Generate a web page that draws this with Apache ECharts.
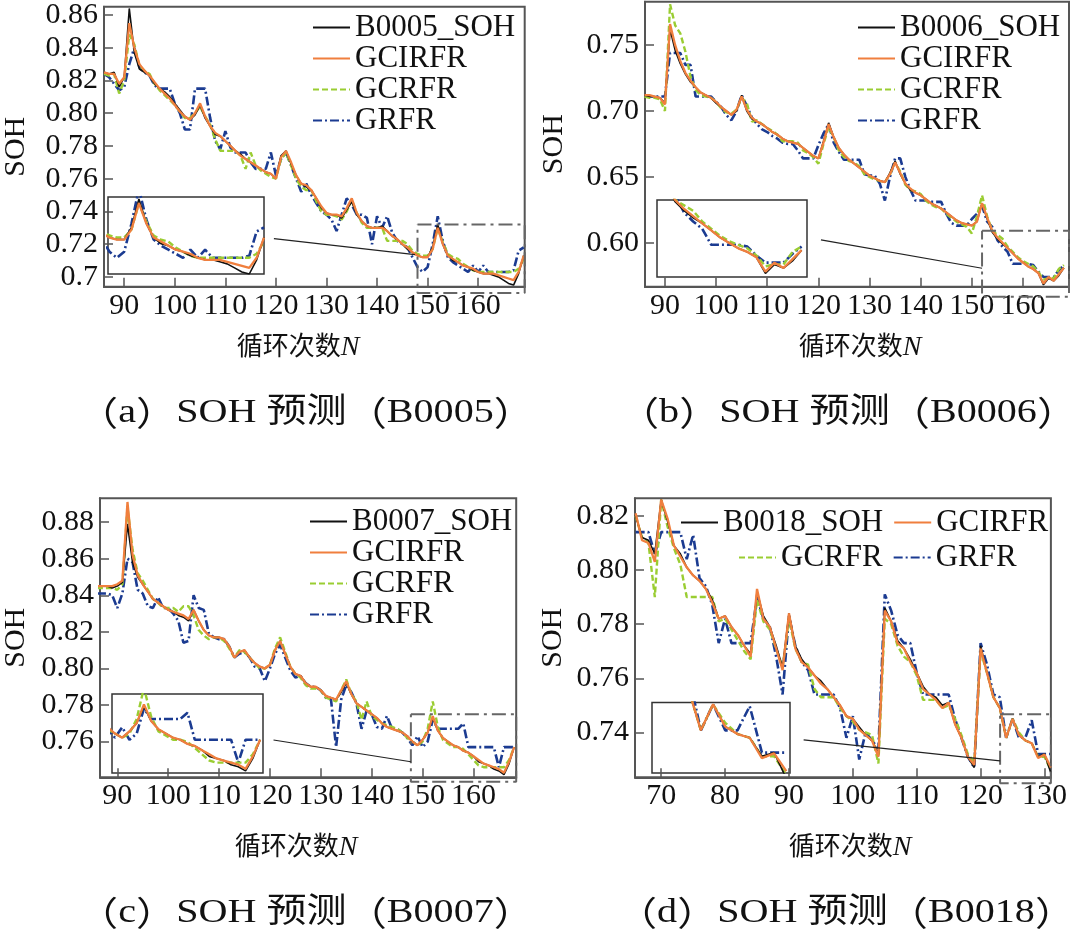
<!DOCTYPE html>
<html><head><meta charset="utf-8">
<script src="https://cdn.jsdelivr.net/npm/echarts@6/dist/echarts.min.js"></script>
<style>html,body{margin:0;padding:0;background:#fff}#c{width:1070px;height:930px}</style>
</head><body><div id="c"></div>
<script>
// ---------------- data ----------------
const aStart = 86;
const aTrue = [0.825,0.824,0.825,0.816,0.822,0.864,0.837,0.827,0.825,0.823,
0.818,0.815,0.813,0.810,0.806,0.802,0.798,0.796,0.799,0.805,
0.797,0.792,0.787,0.786,0.783,0.780,0.777,0.775,0.772,0.770,
0.768,0.766,0.764,0.763,0.760,0.774,0.777,0.769,0.762,0.757,
0.755,0.753,0.748,0.742,0.739,0.738,0.738,0.736,0.741,0.746,
0.738,0.734,0.731,0.730,0.730,0.731,0.728,0.725,0.723,0.720,
0.717,0.715,0.713,0.712,0.712,0.718,0.732,0.720,0.713,0.710,
0.709,0.707,0.706,0.704,0.703,0.702,0.702,0.701,0.700,0.698,
0.696,0.695,0.702,0.713];
const aGCIRFR = [0.825,0.824,0.824,0.818,0.822,0.855,0.840,0.830,0.826,0.823,
0.819,0.815,0.812,0.809,0.805,0.801,0.798,0.796,0.800,0.806,
0.798,0.792,0.788,0.786,0.783,0.780,0.777,0.774,0.772,0.770,
0.768,0.766,0.764,0.763,0.760,0.773,0.777,0.770,0.762,0.757,
0.756,0.753,0.748,0.743,0.739,0.738,0.738,0.737,0.742,0.748,
0.739,0.734,0.731,0.730,0.730,0.730,0.728,0.725,0.723,0.720,
0.718,0.715,0.713,0.712,0.712,0.717,0.730,0.720,0.713,0.711,
0.709,0.707,0.706,0.705,0.703,0.702,0.702,0.702,0.701,0.700,
0.699,0.698,0.703,0.713];
const aGCRFR = [0.824,0.823,0.824,0.812,0.820,0.848,0.842,0.829,0.826,0.824,
0.818,0.814,0.811,0.808,0.805,0.801,0.797,0.797,0.800,0.804,
0.798,0.793,0.784,0.777,0.777,0.777,0.777,0.774,0.766,0.776,
0.768,0.765,0.763,0.761,0.760,0.772,0.776,0.768,0.760,0.755,
0.753,0.753,0.746,0.740,0.738,0.738,0.737,0.735,0.740,0.747,
0.739,0.733,0.730,0.730,0.730,0.730,0.722,0.722,0.722,0.722,
0.720,0.716,0.714,0.713,0.713,0.717,0.730,0.721,0.714,0.712,
0.711,0.708,0.706,0.704,0.703,0.703,0.703,0.703,0.703,0.703,
0.703,0.703,0.705,0.711];
const aGRFR = [0.824,0.822,0.818,0.814,0.816,0.830,0.840,0.828,0.825,0.823,
0.817,0.815,0.815,0.815,0.806,0.800,0.790,0.790,0.815,0.815,
0.815,0.797,0.783,0.778,0.789,0.779,0.776,0.776,0.776,0.770,
0.766,0.766,0.766,0.776,0.762,0.772,0.776,0.768,0.760,0.752,
0.757,0.750,0.745,0.740,0.738,0.735,0.728,0.738,0.748,0.744,
0.738,0.738,0.736,0.720,0.737,0.730,0.737,0.727,0.722,0.720,
0.718,0.712,0.706,0.703,0.706,0.720,0.737,0.722,0.712,0.709,
0.707,0.705,0.703,0.707,0.703,0.707,0.703,0.703,0.703,0.703,
0.703,0.704,0.716,0.718];

const bStart = 86;
const bTrue = [0.712,0.711,0.711,0.710,0.706,0.762,0.746,0.736,0.728,0.722,
0.718,0.714,0.712,0.710,0.706,0.703,0.700,0.697,0.700,0.712,
0.700,0.694,0.692,0.690,0.687,0.684,0.682,0.679,0.677,0.676,
0.675,0.672,0.669,0.666,0.664,0.677,0.691,0.680,0.672,0.667,
0.663,0.660,0.657,0.654,0.651,0.649,0.647,0.646,0.653,0.662,
0.652,0.645,0.640,0.638,0.636,0.633,0.630,0.628,0.626,0.623,
0.620,0.617,0.615,0.614,0.613,0.616,0.630,0.618,0.608,0.603,
0.599,0.596,0.592,0.588,0.585,0.582,0.580,0.577,0.568,0.573,
0.571,0.575,0.581];
const bGCIRFR = [0.712,0.712,0.711,0.710,0.705,0.766,0.750,0.738,0.729,0.723,
0.718,0.714,0.712,0.710,0.707,0.703,0.700,0.697,0.701,0.711,
0.701,0.695,0.692,0.690,0.687,0.684,0.682,0.679,0.677,0.676,
0.675,0.672,0.669,0.666,0.664,0.676,0.690,0.680,0.672,0.667,
0.663,0.660,0.657,0.654,0.651,0.649,0.647,0.646,0.652,0.661,
0.653,0.645,0.641,0.638,0.636,0.633,0.630,0.628,0.626,0.623,
0.620,0.617,0.615,0.614,0.613,0.616,0.630,0.619,0.609,0.604,
0.600,0.596,0.592,0.588,0.585,0.582,0.580,0.577,0.569,0.574,
0.571,0.576,0.581];
const bGCRFR = [0.711,0.710,0.710,0.709,0.700,0.781,0.765,0.759,0.745,0.726,
0.716,0.712,0.711,0.710,0.707,0.702,0.699,0.698,0.701,0.710,
0.706,0.692,0.693,0.690,0.687,0.685,0.682,0.677,0.677,0.677,
0.676,0.670,0.668,0.665,0.660,0.675,0.688,0.680,0.670,0.665,
0.662,0.661,0.658,0.652,0.650,0.648,0.647,0.646,0.652,0.661,
0.654,0.644,0.640,0.639,0.637,0.632,0.629,0.627,0.626,0.622,
0.619,0.616,0.614,0.612,0.607,0.620,0.636,0.620,0.609,0.606,
0.603,0.597,0.593,0.589,0.586,0.584,0.582,0.578,0.572,0.573,
0.573,0.580,0.583];
const bGRFR = [0.712,0.711,0.711,0.711,0.711,0.744,0.744,0.744,0.735,0.735,
0.711,0.711,0.711,0.711,0.707,0.703,0.697,0.693,0.700,0.712,
0.704,0.695,0.690,0.686,0.684,0.681,0.679,0.676,0.675,0.675,
0.670,0.664,0.664,0.664,0.674,0.683,0.690,0.676,0.669,0.663,
0.663,0.663,0.663,0.652,0.651,0.651,0.645,0.632,0.650,0.664,
0.664,0.650,0.640,0.632,0.632,0.632,0.631,0.631,0.631,0.622,
0.615,0.613,0.613,0.613,0.618,0.622,0.628,0.616,0.612,0.602,
0.597,0.593,0.584,0.584,0.584,0.584,0.583,0.578,0.574,0.574,
0.574,0.579,0.583];

const cStart = 86;
const cTrue = [0.845,0.845,0.845,0.844,0.845,0.847,0.879,0.858,0.850,0.846,
0.842,0.838,0.836,0.834,0.832,0.831,0.829,0.828,0.826,0.832,
0.826,0.821,0.818,0.817,0.817,0.816,0.812,0.806,0.809,0.810,
0.806,0.803,0.801,0.800,0.802,0.810,0.815,0.808,0.801,0.797,
0.796,0.792,0.790,0.790,0.788,0.785,0.784,0.783,0.787,0.792,
0.786,0.781,0.779,0.777,0.775,0.773,0.770,0.768,0.767,0.766,
0.765,0.763,0.760,0.758,0.761,0.765,0.773,0.766,0.762,0.760,
0.758,0.757,0.755,0.754,0.752,0.749,0.748,0.747,0.745,0.744,
0.742,0.748,0.757];
const cGCIRFR = [0.845,0.845,0.845,0.845,0.846,0.848,0.891,0.862,0.851,0.846,
0.842,0.838,0.836,0.834,0.832,0.831,0.830,0.829,0.827,0.832,
0.826,0.821,0.818,0.817,0.817,0.816,0.812,0.806,0.809,0.810,
0.806,0.803,0.801,0.800,0.802,0.810,0.815,0.808,0.801,0.797,
0.796,0.792,0.790,0.790,0.788,0.785,0.784,0.783,0.788,0.793,
0.786,0.781,0.779,0.777,0.775,0.773,0.770,0.768,0.767,0.766,
0.765,0.763,0.760,0.758,0.761,0.765,0.774,0.766,0.762,0.760,
0.758,0.757,0.755,0.754,0.752,0.750,0.748,0.747,0.746,0.745,
0.743,0.749,0.757];
const cGCRFR = [0.844,0.844,0.844,0.844,0.843,0.846,0.888,0.865,0.852,0.848,
0.843,0.838,0.836,0.833,0.833,0.833,0.831,0.834,0.834,0.829,
0.821,0.818,0.816,0.817,0.817,0.815,0.811,0.806,0.810,0.809,
0.806,0.803,0.800,0.800,0.802,0.811,0.817,0.809,0.801,0.797,
0.795,0.791,0.789,0.789,0.788,0.784,0.783,0.782,0.788,0.794,
0.786,0.782,0.772,0.782,0.774,0.772,0.770,0.769,0.768,0.767,
0.765,0.762,0.760,0.758,0.760,0.767,0.782,0.768,0.761,0.759,
0.757,0.757,0.756,0.753,0.750,0.747,0.746,0.746,0.746,0.746,
0.746,0.750,0.757];
const cGRFR = [0.841,0.841,0.841,0.840,0.833,0.841,0.860,0.858,0.843,0.841,
0.834,0.833,0.839,0.833,0.833,0.830,0.826,0.814,0.815,0.840,
0.833,0.832,0.819,0.817,0.816,0.816,0.812,0.806,0.808,0.809,
0.806,0.801,0.800,0.793,0.800,0.808,0.813,0.806,0.799,0.795,
0.796,0.792,0.790,0.790,0.788,0.784,0.783,0.757,0.783,0.791,
0.787,0.781,0.767,0.777,0.775,0.768,0.767,0.774,0.767,0.767,
0.765,0.762,0.758,0.763,0.757,0.760,0.772,0.767,0.767,0.767,
0.767,0.767,0.770,0.757,0.757,0.757,0.757,0.757,0.757,0.746,
0.757,0.757,0.757];

const dStart = 66;
const dTrue = [0.820,0.812,0.811,0.806,0.826,0.818,0.809,0.806,0.801,0.798,
0.796,0.793,0.789,0.782,0.783,0.779,0.776,0.772,0.769,0.792,
0.783,0.779,0.772,0.764,0.784,0.772,0.767,0.764,0.761,0.759,
0.756,0.753,0.750,0.746,0.745,0.742,0.739,0.737,0.732,0.786,
0.781,0.774,0.771,0.767,0.762,0.757,0.754,0.753,0.750,0.751,
0.743,0.738,0.731,0.727,0.772,0.762,0.753,0.749,0.738,0.745,
0.739,0.737,0.736,0.731,0.732,0.725];
const dGCIRFR = [0.821,0.811,0.810,0.803,0.826,0.819,0.809,0.805,0.801,0.798,
0.796,0.793,0.788,0.782,0.783,0.779,0.776,0.772,0.768,0.793,
0.782,0.779,0.771,0.763,0.784,0.771,0.766,0.764,0.761,0.758,
0.756,0.753,0.750,0.746,0.745,0.741,0.739,0.737,0.731,0.785,
0.781,0.773,0.771,0.766,0.762,0.756,0.754,0.752,0.749,0.751,
0.743,0.738,0.731,0.728,0.771,0.762,0.753,0.749,0.738,0.745,
0.739,0.737,0.736,0.7305,0.7318,0.727];
const dGCRFR = [0.820,0.812,0.810,0.790,0.826,0.816,0.808,0.802,0.790,0.790,
0.790,0.790,0.790,0.781,0.782,0.778,0.774,0.770,0.767,0.789,
0.781,0.778,0.771,0.764,0.782,0.771,0.766,0.765,0.756,0.753,
0.753,0.753,0.749,0.746,0.744,0.741,0.740,0.739,0.7285,0.782,
0.780,0.772,0.768,0.766,0.761,0.752,0.752,0.752,0.749,0.750,
0.745,0.739,0.732,0.729,0.770,0.762,0.753,0.749,0.738,0.745,
0.740,0.737,0.736,0.731,0.731,0.726];
const dGRFR = [0.814,0.814,0.814,0.806,0.814,0.814,0.814,0.814,0.804,0.813,
0.797,0.794,0.787,0.773,0.782,0.773,0.773,0.773,0.773,0.790,
0.782,0.779,0.768,0.754,0.783,0.772,0.766,0.763,0.754,0.754,
0.754,0.754,0.749,0.738,0.746,0.730,0.740,0.737,0.734,0.791,
0.785,0.776,0.773,0.773,0.762,0.754,0.754,0.754,0.754,0.754,
0.745,0.738,0.731,0.727,0.773,0.765,0.754,0.753,0.738,0.745,
0.738,0.738,0.7445,0.732,0.732,0.732];

const xTicksABC = [90,100,110,120,130,140,150,160];
const xTicksD = [70,80,90,100,110,120,130];
const aYTicks = [0.70,0.72,0.74,0.76,0.78,0.80,0.82,0.84,0.86];
const aYLabels = ['0.7','0.72','0.74','0.76','0.78','0.80','0.82','0.84','0.86'];
const bYTicks = [0.60,0.65,0.70,0.75];
const bYLabels = ['0.60','0.65','0.70','0.75'];
const cYTicks = [0.76,0.78,0.80,0.82,0.84,0.86,0.88];
const cYLabels = ['0.76','0.78','0.80','0.82','0.84','0.86','0.88'];
const dYTicks = [0.74,0.76,0.78,0.80,0.82];
const dYLabels = ['0.74','0.76','0.78','0.80','0.82'];

const methodNames = ['GCIRFR','GCRFR','GRFR'];
const trueNames = ['B0005_SOH','B0006_SOH','B0007_SOH','B0018_SOH'];
const captions = ['（a）SOH 预测（B0005）','（b）SOH 预测（B0006）','（c）SOH 预测（B0007）','（d）SOH 预测（B0018）'];
const xName = '循环次数';

// ---------------- layout ----------------
const FONT = "Liberation Serif, Tinos, Times New Roman, DejaVu Serif, serif";
const CJK = "Liberation Serif, Noto Sans CJK SC, sans-serif";
const CJKONLY = "Noto Sans CJK SC, sans-serif";
const panels = [
 {start:aStart, vals:[aTrue,aGCIRFR,aGCRFR,aGRFR], xt:xTicksABC, yt:aYTicks, yl:aYLabels,
  grid:{left:101.4,top:1.7,width:423.3,height:285}, xr:[86,169.2], yr:[0.694,0.865],
  inset:{left:108,top:197,width:156,height:77}, ixr:[147.8,169], iyr:[0.695,0.733],
  rect:[148,169.2,0.6902,0.732], conn:[[119.6,0.7234],[147.5,0.7136]],
  legend:[{left:307,top:7,orient:'vertical',n:[0,1,2,3]}], nameGap:73,
  xname:[298,348], cap:[306,413]},
 {start:bStart, vals:[bTrue,bGCIRFR,bGCRFR,bGRFR], xt:xTicksABC, yt:bYTicks, yl:bYLabels,
  grid:{left:645,top:1.7,width:424,height:285}, xr:[86.1,169], yr:[0.5666,0.783],
  inset:{left:657,top:200,width:150,height:77}, ixr:[152,168.6], iyr:[0.566,0.609],
  rect:[152,169,0.559,0.609], conn:[[120.5,0.6021],[152,0.5806]],
  legend:[{left:852,top:7,orient:'vertical',n:[0,1,2,3]}], nameGap:76,
  xname:[860,348], cap:[848,413]},
 {start:cStart, vals:[cTrue,cGCIRFR,cGCRFR,cGRFR], xt:xTicksABC, yt:cYTicks, yl:cYLabels,
  grid:{left:99,top:498.3,width:417.2,height:279}, xr:[86.6,168.4], yr:[0.7405,0.893],
  inset:{left:112,top:694,width:151,height:79}, ixr:[147.6,168.4], iyr:[0.741,0.779],
  rect:[147.7,168.4,0.738,0.775], conn:[[120.7,0.7609],[147.7,0.749]],
  legend:[{left:304,top:501,orient:'vertical',n:[0,1,2,3]}], nameGap:69,
  xname:[296,848], cap:[306,913]},
 {start:dStart, vals:[dTrue,dGCIRFR,dGCRFR,dGRFR], xt:xTicksD, yt:dYTicks, yl:dYLabels,
  grid:{left:635,top:498.3,width:418.8,height:279}, xr:[65.9,131.0], yr:[0.7234,0.8265],
  inset:{left:652,top:702.5,width:138,height:70.5}, ixr:[120,131.3], iyr:[0.7265,0.7455],
  rect:[123.05,131.0,0.7212,0.7467], conn:[[92.3,0.7372],[123.05,0.7295]],
  legend:[{left:675,top:502,orient:'horizontal',n:[0,1]},{left:733,top:537,orient:'horizontal',n:[2,3]}], nameGap:67,
  xname:[850,848], cap:[846,913]}
];

// style of each line: index 0 = measured SOH, 1..3 = methods
const lineStyles = [
  {color:'#111111', width:1.6, type:'solid'},
  {color:'#f07f3e', width:2.3, type:'solid'},
  {color:'#9acd32', width:2.4, type:[6,3]},
  {color:'#1b3b91', width:2.6, type:[9,3,2,3]}
];
const drawOrder = [3,2,0,1];

const option = {animation:false, grid:[], xAxis:[], yAxis:[], series:[], legend:[], graphic:[]};

panels.forEach((p,k)=>{
  const names = [trueNames[k]].concat(methodNames);
  const mi = option.grid.length;
  option.grid.push(Object.assign({show:true, borderColor:'#555', borderWidth:2, containLabel:false}, p.grid));
  const ii = option.grid.length;
  option.grid.push(Object.assign({show:true, borderColor:'#333', borderWidth:1.5, backgroundColor:'#fff'}, p.inset));

  const tickStyle = {color:'#555', width:1.5};
  option.xAxis.push({type:'value', gridIndex:mi, min:p.xr[0], max:p.xr[1],
    axisLine:{show:true, onZero:false, lineStyle:{color:'#555', width:2}},
    axisTick:{show:true, inside:true, length:9, customValues:p.xt, lineStyle:tickStyle},
    axisLabel:{customValues:p.xt, margin:4, fontSize:30, fontFamily:FONT, color:'#111', formatter:v=>String(Math.round(v))},
    splitLine:{show:false}});
  option.yAxis.push({type:'value', gridIndex:mi, min:p.yr[0], max:p.yr[1],
    axisLine:{show:true, onZero:false, lineStyle:{color:'#555', width:2}},
    axisTick:{show:true, inside:true, length:9, customValues:p.yt, lineStyle:tickStyle},
    axisLabel:{customValues:p.yt, margin:6, fontSize:30, fontFamily:FONT, color:'#111',
      formatter:v=>{const j=p.yt.findIndex(t=>Math.abs(t-v)<1e-6); return j>=0?p.yl[j]:'';}},
    splitLine:{show:false},
    name:'SOH', nameLocation:'middle', nameRotate:90, nameGap:p.nameGap,
    nameTextStyle:{fontSize:30, fontFamily:FONT, color:'#111'}});
  option.xAxis.push({type:'value', gridIndex:ii, min:p.ixr[0], max:p.ixr[1], show:false, splitLine:{show:false}});
  option.yAxis.push({type:'value', gridIndex:ii, min:p.iyr[0], max:p.iyr[1], show:false, splitLine:{show:false}});

  drawOrder.forEach(s=>{
    const data = p.vals[s].map((v,i)=>[p.start+i, v]);
    const ls = lineStyles[s];
    option.series.push({type:'line', name:names[s], xAxisIndex:mi, yAxisIndex:mi, data,
      symbol:'none', showSymbol:false, itemStyle:{color:ls.color}, lineStyle:Object.assign({}, ls), silent:true});
    option.series.push({type:'line', name:names[s], xAxisIndex:ii, yAxisIndex:ii, data,
      symbol:'none', showSymbol:false, clip:true, itemStyle:{color:ls.color}, lineStyle:Object.assign({}, ls), silent:true});
  });
  // zoom rectangle and connector
  const r = p.rect;
  option.series.push({type:'line', xAxisIndex:mi, yAxisIndex:mi, clip:false, symbol:'none', silent:true,
    data:[[r[0],r[3]],[r[1],r[3]],[r[1],r[2]],[r[0],r[2]],[r[0],r[3]]],
    lineStyle:{color:'#666', width:2, type:[14,5,3,5]}});
  option.series.push({type:'line', xAxisIndex:mi, yAxisIndex:mi, clip:false, symbol:'none', silent:true,
    data:p.conn, lineStyle:{color:'#222', width:1.2}});

  p.legend.forEach(L=>{
    option.legend.push({left:L.left, top:L.top, orient:L.orient, selectedMode:false,
      itemWidth:37, itemHeight:14, itemGap:L.orient==='vertical'?0:10,
      itemStyle:{opacity:0},
      data:L.n.map(j=>names[j]),
      textStyle:{fontSize:31, fontFamily:FONT, color:'#111', lineHeight:31}});
  });

  option.graphic.push({type:'text', x:p.xname[0], y:p.xname[1], silent:true,
    style:{text:'{c|'+xName+'}{n|N}', align:'center', verticalAlign:'middle',
      rich:{c:{fontSize:26, fontFamily:CJK, fill:'#111', color:'#111'}, n:{fontSize:28, fontFamily:FONT, fontStyle:'italic', fill:'#111', color:'#111'}}}});
  // caption: full-width brackets set in the CJK face, text widened like the source typesetting
  const capRich = captions[k].replace(/[（）]/g, m => '{p|' + m + '}');
  option.graphic.push({type:'text', x:p.cap[0], y:p.cap[1], scaleX:1.18, silent:true,
    style:{text:capRich, align:'center', verticalAlign:'middle', fontSize:34, fontFamily:CJK, fill:'#111',
      rich:{p:{fontSize:34, fontFamily:CJKONLY, fill:'#111', color:'#111'}}}});
});

const chart = echarts.init(document.getElementById('c'), null, {renderer:'canvas'});
chart.setOption(option);
</script>
</body></html>
